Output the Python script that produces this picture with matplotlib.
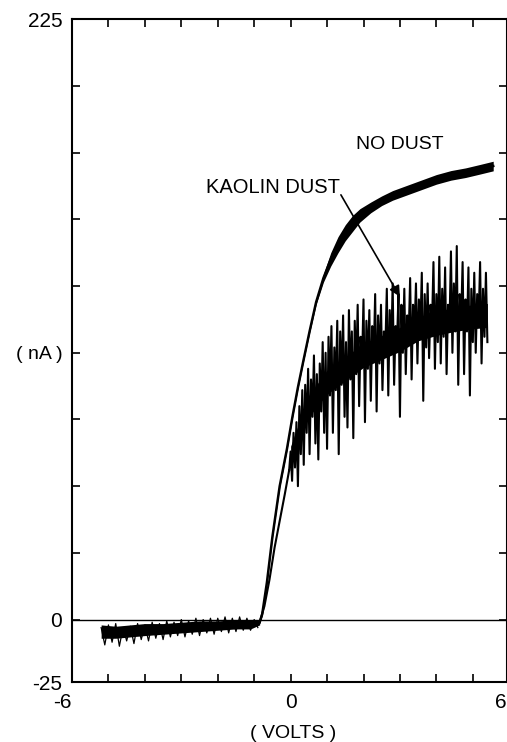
import numpy as np
import matplotlib
matplotlib.use('Agg')
import matplotlib.pyplot as plt

plt.rcParams['font.family'] = ['Liberation Sans', 'DejaVu Sans']

# ---------------- data ----------------
# common flat part (both traces overlap), volts / nA
flat_x = [-5.2, -4.8, -4.4, -4.0, -3.5, -3.0, -2.5, -2.0, -1.5, -1.1, -0.85]
flat_hi = [-2.0, -2.5, -2.0, -1.5, -1.5, -1.0, -0.5, -0.5, 0.0, 0.0, 0.0]
flat_lo = [-7.0, -7.0, -6.5, -6.0, -5.5, -5.0, -4.5, -4.0, -3.5, -3.5, -2.0]
# spikes on the flat part, sampled from -5.2 to -0.9 V
flat_spikes = [-3, -9.5, -2, -8.5, -1.5, -10, -3, -8, -2.5, -9, -1.5, -7.5, -2, -8,
               -1, -7, -1.5, -7.5, -0.5, -6.5, -1, -6, 0, -6.5, -0.5, -5.5, 0.5, -6,
               0, -5, 0.5, -5.5, 0.5, -4.5, 1, -5, 0.5, -4.5, 1, -4, 0.5, -4, 0, -3]

# NO DUST trace (centre line and half thickness of the band)
nodust_x = [-0.85, -0.78, -0.65, -0.5, -0.3, -0.1, 0.05, 0.2, 0.35, 0.52, 0.7,
            0.9, 1.1, 1.3, 1.5, 1.7, 1.9, 2.2, 2.5, 2.8, 3.1, 3.4, 3.7, 4.0,
            4.4, 4.8, 5.2, 5.56]
nodust_y = [-1, 2, 14, 31, 50, 64, 76, 87, 97, 108, 119,
            128, 135, 140.5, 145, 148.5, 151.5, 154.5, 157, 159, 160.5, 162, 163.5, 165,
            166.5, 167.5, 168.8, 170]
nodust_half = [0.5, 0.5, 0.5, 0.5, 0.5, 0.5, 0.5, 0.5, 0.5, 0.6, 0.9,
               1.5, 2.5, 3.0, 3.0, 3.0, 2.5, 2.0, 1.8, 1.8, 1.8, 1.8, 1.8, 1.8,
               1.8, 1.8, 1.8, 1.8]

# KAOLIN DUST: smooth rise, then noisy part (sampled from -0.04 to 5.40 V)
kaolin_rise_x = [-0.85, -0.72, -0.58, -0.44, -0.3, -0.16, -0.04]
kaolin_rise_y = [-1, 5, 15, 27, 37, 47, 56]
kaolin_noisy = [
    56, 63, 52, 70, 57, 74, 50, 80, 62, 86,
    58, 88, 70, 94, 62, 90, 76, 99, 66, 92,
    60, 96, 78, 104, 70, 100, 64, 106, 84, 110,
    70, 102, 86, 112, 62, 108, 88, 114, 76, 104,
    72, 116, 90, 108, 68, 112, 92, 118, 80, 106,
    96, 120, 74, 112, 94, 116, 82, 110, 98, 122,
    78, 114, 96, 118, 86, 108, 102, 124, 84, 116,
    100, 126, 88, 110, 104, 122, 76, 118, 100, 124,
    92, 114, 106, 128, 90, 118, 108, 126, 96, 120,
    108, 130, 82, 122, 102, 126, 98, 118, 110, 134,
    94, 122, 104, 136, 96, 124, 106, 132, 92, 118,
    110, 138, 100, 126, 108, 140, 88, 122, 112, 134,
    92, 120, 108, 132, 84, 124, 104, 130, 100, 122,
    112, 134, 96, 124, 106, 130, 104]
kaolin_noisy_start, kaolin_noisy_end = -0.04, 5.40
# dark core of the kaolin band
kaolin_core_x = [0.0, 0.5, 1.0, 1.5, 2.0, 2.5, 3.0, 3.5, 4.0, 4.5, 5.0, 5.4]
kaolin_core_y = [62, 80, 89, 94, 99, 102, 105, 109, 111, 112.5, 113.5, 114]
kaolin_core_half = [3, 4, 4.5, 4.5, 4.5, 4.5, 4.5, 4.5, 4.5, 4.5, 4.5, 4.5]

# axis tick labels
x_tick_vals = [-6, -5, -4, -3, -2, -1, 0, 1, 2, 3, 4, 5, 5.93]
x_tick_labels = ['-6', '', '', '', '', '', '0', '', '', '', '', '', '6']
y_tick_vals = [-23.4, 0, 25, 50, 75, 100, 125, 150, 175, 200, 225]
y_tick_labels = ['-25', '0', '', '', '', '( nA )', '', '', '', '', '225']

# ---------------- figure ----------------
W, H = 507, 742
fig = plt.figure(figsize=(W / 100, H / 100), dpi=100)
ax = fig.add_axes([72 / W, 1 - 682 / H, (506.7 - 72) / W, (682 - 19.3) / H])
ax.set_xlim(-6, 5.93)
ax.set_ylim(-23.4, 225)

for s in ax.spines.values():
    s.set_linewidth(1.5)

ax.set_xticks(x_tick_vals)
ax.set_xticklabels(x_tick_labels)
ax.set_yticks(y_tick_vals)
ax.set_yticklabels(y_tick_labels)
ax.tick_params(direction='in', length=5.5, width=1.2, top=True, right=True,
               labelsize=15, colors='black')
ax.tick_params(axis='x', pad=8)
ax.tick_params(axis='y', pad=7)
for lab in ax.get_yticklabels():
    if lab.get_text() == '( nA )':
        lab.set_fontsize(14)
xl = ax.get_xticklabels()
xl[-1].set_horizontalalignment('right')
xl[0].set_horizontalalignment('right')
xl[0].set_x(-5.6)

# zero line
ax.axhline(0, color='black', lw=1.0, zorder=1)

# leader line + arrow (behind the traces)
ax.annotate('', xy=(3.0, 121), xytext=(1.38, 159.2),
            arrowprops=dict(arrowstyle='-|>', color='black', lw=1.2,
                            mutation_scale=16, shrinkA=0, shrinkB=0),
            zorder=2)

# flat common part
ax.fill_between(flat_x, flat_lo, flat_hi, color='black', lw=0, zorder=3)
fx = np.linspace(-5.2, -0.9, len(flat_spikes))
ax.plot(fx, flat_spikes, color='black', lw=0.9, zorder=3)

# NO DUST
nd_lo = np.array(nodust_y) - np.array(nodust_half)
nd_hi = np.array(nodust_y) + np.array(nodust_half)
ax.fill_between(nodust_x, nd_lo, nd_hi, color='black', lw=0, zorder=4)
ax.plot(nodust_x, nodust_y, color='black', lw=1.8, zorder=4, solid_joinstyle='round')

# KAOLIN DUST
ax.plot(kaolin_rise_x, kaolin_rise_y, color='black', lw=1.5, zorder=4)
kc_lo = np.array(kaolin_core_y) - np.array(kaolin_core_half)
kc_hi = np.array(kaolin_core_y) + np.array(kaolin_core_half)
ax.fill_between(kaolin_core_x, kc_lo, kc_hi, color='black', lw=0, zorder=4)
kx = np.linspace(kaolin_noisy_start, kaolin_noisy_end, len(kaolin_noisy))
ax.plot(kx, kaolin_noisy, color='black', lw=1.5, zorder=4)

# labels
ax.text(3.0, 178, 'NO DUST', ha='center', va='center', fontsize=14)
ax.text(-0.47, 162, 'KAOLIN DUST', ha='center', va='center', fontsize=14.5)
fig.text(293 / W, 1 - 733 / H, '( VOLTS )', ha='center', va='center', fontsize=14)

fig.savefig('out.png', dpi=100)
